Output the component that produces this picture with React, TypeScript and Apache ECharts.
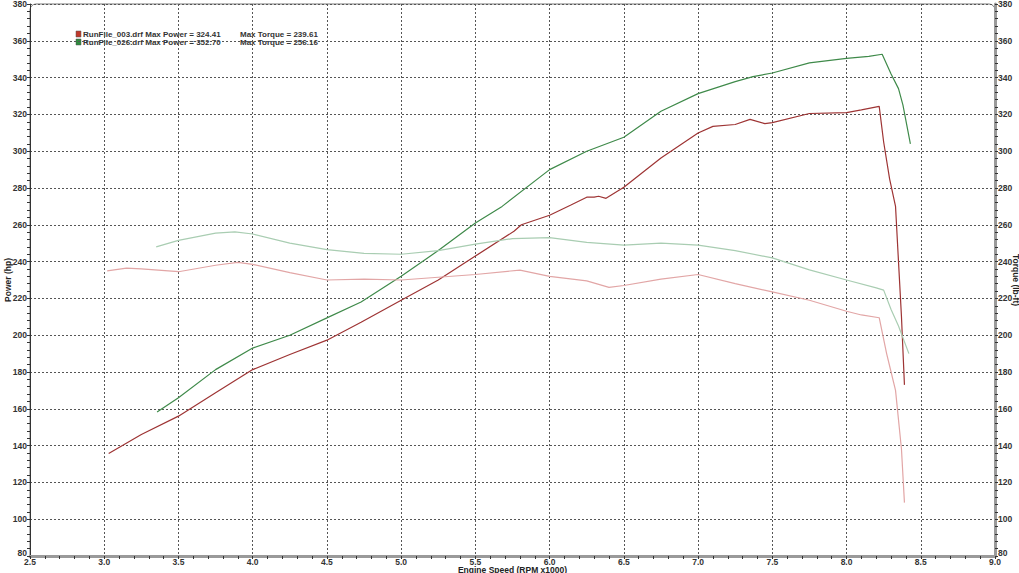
import React, { useEffect, useRef } from "react";
import * as echarts from "echarts";

// Engine speed (RPM x1000) and values per trace
const rpmPower003 = [3.03, 3.25, 3.5, 3.75, 4.0, 4.25, 4.5, 4.73, 5.0, 5.25, 5.5, 5.76, 5.81, 6.0, 6.14, 6.25, 6.3, 6.33, 6.38, 6.5, 6.75, 7.0, 7.1, 7.25, 7.35, 7.45, 7.5, 7.75, 8.0, 8.1, 8.22, 8.25, 8.29, 8.33, 8.35, 8.37, 8.39];
const power003 = [135.7, 146, 156, 168.7, 181.3, 189.5, 197.3, 207, 219, 230, 243, 256.5, 260, 265.2, 270.6, 275, 275, 275.5, 274.4, 280.4, 296.3, 309.9, 313.5, 314.5, 317.3, 315, 315.5, 320.5, 321, 322.5, 324.4, 305, 285, 270, 240, 210, 173];

const rpmPower026 = [3.356, 3.5, 3.75, 4.0, 4.25, 4.5, 4.73, 5.0, 5.25, 5.5, 5.68, 6.0, 6.25, 6.5, 6.75, 7.0, 7.25, 7.37, 7.5, 7.75, 8.0, 8.15, 8.24, 8.3, 8.35, 8.38, 8.43];
const power026 = [158.2, 166, 181.3, 193, 200, 209.4, 218, 232, 246, 261, 270, 290, 300, 307.6, 321.7, 331.3, 337.8, 340.5, 342.5, 348, 350.5, 351.5, 352.7, 342, 334, 325, 304];

const rpmTorque003 = [3.02, 3.15, 3.25, 3.5, 3.75, 3.9, 4.0, 4.25, 4.5, 4.75, 5.0, 5.25, 5.5, 5.8, 6.0, 6.25, 6.4, 6.5, 6.75, 7.0, 7.25, 7.5, 7.75, 8.0, 8.1, 8.22, 8.27, 8.3, 8.33, 8.37, 8.39];
const torque003 = [235, 236.5, 236, 234.5, 238, 239.6, 238.5, 234, 230, 230.5, 230, 231.5, 233, 235.4, 232, 229.5, 226, 227, 230.5, 233, 228, 223.5, 219, 213, 211, 209.5, 190, 180, 170, 138, 109];

const rpmTorque026 = [3.35, 3.5, 3.75, 3.88, 4.0, 4.25, 4.5, 4.75, 5.0, 5.25, 5.5, 5.75, 6.0, 6.25, 6.5, 6.75, 7.0, 7.25, 7.5, 7.75, 8.0, 8.2, 8.25, 8.3, 8.35, 8.42];
const torque026 = [248, 251.5, 255.5, 256.2, 255, 250, 246.5, 244.5, 244, 246, 249.5, 252.5, 253, 250.5, 249, 250, 249, 246, 242, 235.5, 230, 225.7, 224.5, 214, 205, 190];

const legendRows = [
  { file: "RunFile_003.drf", maxPower: "324.41", maxTorque: "239.61", color: "#c0392b" },
  { file: "RunFile_026.drf", maxPower: "352.70", maxTorque: "256.16", color: "#2e8b3e" },
];

const Y_MIN = 80;

const zip = (xs: number[], ys: number[]) => xs.map((x, i) => [x, ys[i]]);

const FONT = "Liberation Sans";
const labelStyle = { fontFamily: FONT, fontWeight: "bold" as const, fontSize: 8.5, color: "#333" };
const yLabelFmt = (v: number) => (v === Y_MIN ? `{lo|${v}}` : `${v}`);
const yRich = { lo: { ...labelStyle, padding: [0, 0, 6, 0] } };

export default function App() {
  const ref = useRef<HTMLDivElement>(null);
  useEffect(() => {
    if (!ref.current) return;
    const chart = echarts.init(ref.current, null, { renderer: "svg" });
    const splitDotted = { show: true, lineStyle: { color: "#555", type: [2, 2] as any, width: 1 } };
    const legendGraphics: any[] = [];
    legendRows.forEach((r, i) => {
      const y = 31 + i * 8;
      legendGraphics.push({ type: "rect", shape: { x: 76, y, width: 5, height: 6 }, style: { fill: r.color, stroke: "#555", lineWidth: 0.5 } });
      legendGraphics.push({ type: "text", x: 83, y: y + 3, style: { text: `${r.file} Max Power = ${r.maxPower}`, font: `bold 8px ${FONT}`, fill: "#333", textVerticalAlign: "middle" } });
      legendGraphics.push({ type: "text", x: 240, y: y + 3, style: { text: `Max Torque = ${r.maxTorque}`, font: `bold 8px ${FONT}`, fill: "#333", textVerticalAlign: "middle" } });
    });
    chart.setOption({
      animation: false,
      backgroundColor: "#fff",
      grid: { left: 30, right: 24, top: 4, bottom: 17, outerBoundsMode: "none", containLabel: false },
      xAxis: [
        {
          type: "value", min: 2.5, max: 9, interval: 0.5,
          name: "Engine Speed (RPM x1000)", nameLocation: "middle", nameGap: 9, nameMoveOverlap: false,
          nameTextStyle: { ...labelStyle, fontSize: 8.5, color: "#222" },
          axisLine: { show: true, lineStyle: { color: "#9a9a9a", width: 3 } },
          axisTick: { show: true, length: 3, lineStyle: { color: "#333" } },
          minorTick: { show: true, splitNumber: 5, length: 3, lineStyle: { color: "#333" } },
          axisLabel: { ...labelStyle, margin: 1, formatter: (v: number) => v.toFixed(1) },
          splitLine: splitDotted,
        },
      ],
      yAxis: [
        {
          type: "value", min: Y_MIN, max: 380, interval: 20, position: "left",
          name: "Power (hp)", nameLocation: "middle", nameGap: 18, nameRotate: 90, nameMoveOverlap: false,
          nameTextStyle: { ...labelStyle, fontSize: 8.5, color: "#222" },
          axisLine: { show: true, lineStyle: { color: "#333", width: 1 } },
          axisTick: { show: true, length: 3, lineStyle: { color: "#333" } },
          minorTick: { show: true, splitNumber: 5, length: 3, lineStyle: { color: "#333" } },
          axisLabel: { ...labelStyle, margin: 3, formatter: yLabelFmt, rich: yRich },
          splitLine: splitDotted,
        },
        {
          type: "value", min: Y_MIN, max: 380, interval: 20, position: "right",
          name: "Torque (lb-ft)", nameLocation: "middle", nameGap: 16, nameRotate: -90, nameMoveOverlap: false,
          nameTextStyle: { ...labelStyle, fontSize: 8.5, color: "#222" },
          axisLine: { show: true, lineStyle: { color: "#9a9a9a", width: 3 } },
          axisTick: { show: true, length: 3, lineStyle: { color: "#333" } },
          minorTick: { show: true, splitNumber: 5, length: 3, lineStyle: { color: "#333" } },
          axisLabel: { ...labelStyle, margin: 3, formatter: yLabelFmt, rich: yRich },
          splitLine: { show: false },
        },
      ],
      graphic: [
        { type: "rect", z: -1, shape: { x: 30, y: 4, width: 965, height: 552, r: [6, 6, 0, 0] }, style: { fill: "none", stroke: "#777", lineWidth: 1 } },
        ...legendGraphics,
      ],
      series: [
        { name: "Power 003", type: "line", yAxisIndex: 0, data: zip(rpmPower003, power003), showSymbol: false, lineStyle: { color: "#9e3434", width: 1.2 }, itemStyle: { color: "#9e3434" } },
        { name: "Power 026", type: "line", yAxisIndex: 0, data: zip(rpmPower026, power026), showSymbol: false, lineStyle: { color: "#3f8a4a", width: 1.2 }, itemStyle: { color: "#3f8a4a" } },
        { name: "Torque 003", type: "line", yAxisIndex: 1, data: zip(rpmTorque003, torque003), showSymbol: false, lineStyle: { color: "#e2a6a6", width: 1.2 }, itemStyle: { color: "#e2a6a6" } },
        { name: "Torque 026", type: "line", yAxisIndex: 1, data: zip(rpmTorque026, torque026), showSymbol: false, lineStyle: { color: "#a9cdb2", width: 1.2 }, itemStyle: { color: "#a9cdb2" } },
      ],
    });
    return () => chart.dispose();
  }, []);
  return <div ref={ref} style={{ width: 1019, height: 573, position: "absolute", left: 0, top: 0 }} />;
}
